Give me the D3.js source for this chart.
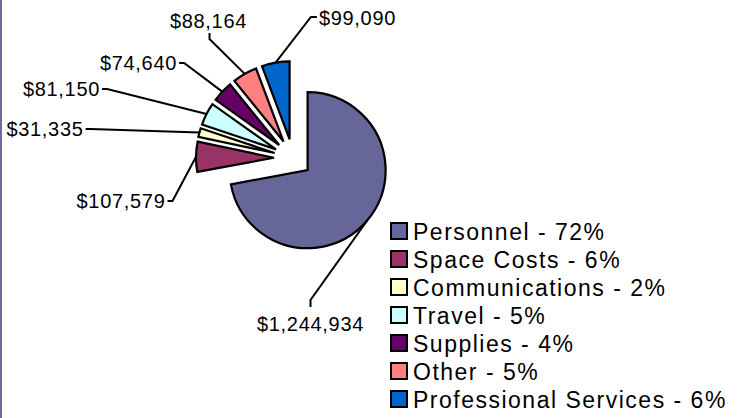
<!DOCTYPE html>
<html>
<head>
<meta charset="utf-8">
<script src="https://cdn.jsdelivr.net/npm/d3@7"></script>
<style>
  body { margin: 0; background: #fff; }
  svg { display: block; font-family: "Liberation Sans", Arial, sans-serif; }
</style>
</head>
<body>
<svg class="chart"></svg>
<script>
// chart values
var categories = ["Personnel", "Space Costs", "Communications", "Travel", "Supplies", "Other", "Professional Services"];
var amounts = [1244934, 107579, 31335, 81150, 74640, 88164, 99090];
var percents = [72, 6, 2, 5, 4, 5, 6];
var colors = ["#666699", "#993366", "#ffffcc", "#ccffff", "#660066", "#ff8080", "#0066cc"];

// where each value label sits (text centre) and which side its leader leaves from
var labelSpots = [
    {x: 310.5, y: 324, side: "top"},
    {x: 121, y: 201, side: "right"},
    {x: 45, y: 129, side: "right"},
    {x: 61.5, y: 89, side: "right"},
    {x: 138.5, y: 63, side: "right"},
    {x: 208.5, y: 21, side: "bottom"},
    {x: 357.5, y: 18, side: "left"}
];

function show() {
    'use strict';

    var width = 737, height = 418;
    var cx = 293, cy = 158, radius = 78, explode = 19;

    var svg = d3.select(".chart")
        .attr("width", width)
        .attr("height", height);

    svg.append("rect")
        .attr("width", width).attr("height", height)
        .attr("fill", "#fff");

    // thin frame edge on the left
    svg.append("rect")
        .attr("x", 0).attr("y", 0)
        .attr("width", 2).attr("height", height)
        .attr("fill", "#6b6ba3");

    var pie = d3.pie().sort(null).value(function(d) { return d; });
    var arcs = pie(amounts);
    var arc = d3.arc().innerRadius(0).outerRadius(radius);

    function mid(d) { return (d.startAngle + d.endAngle) / 2; }
    function polar(a, dist) { return [cx + dist * Math.sin(a), cy - dist * Math.cos(a)]; }

    var chart = svg.append("g");

    chart.selectAll("path.slice")
        .data(arcs)
        .enter().append("path")
        .attr("class", "slice")
        .attr("transform", function(d) {
            var p = polar(mid(d), explode);
            return "translate(" + p[0] + "," + p[1] + ")";
        })
        .attr("d", arc)
        .attr("fill", function(d, i) { return colors[i]; })
        .attr("stroke", "#000")
        .attr("stroke-width", 2.2)
        .attr("stroke-linejoin", "miter");

    // value labels
    var fmt = d3.format("$,");
    var labels = svg.append("g").selectAll("text")
        .data(arcs)
        .enter().append("text")
        .attr("x", function(d, i) { return labelSpots[i].x; })
        .attr("y", function(d, i) { return labelSpots[i].y; })
        .attr("dy", "0.35em")
        .attr("text-anchor", "middle")
        .attr("font-size", 20)
        .attr("letter-spacing", 0.7)
        .attr("fill", "#000")
        .text(function(d) { return fmt(d.value); });

    // leader lines from label to slice edge
    labels.each(function(d, i) {
        var b = this.getBBox(), s = labelSpots[i], start, elbow;
        if (s.side === "right") {
            start = [b.x + b.width + 2, s.y];
            elbow = [start[0] + 5, s.y];
        } else if (s.side === "left") {
            start = [b.x - 2, s.y - 1];
            elbow = [start[0] - 6, s.y - 1];
        } else if (s.side === "bottom") {
            start = [s.x + 1, b.y + b.height + 1];
            elbow = [start[0], start[1] + 6];
        } else {
            start = [s.x, b.y - 6];
            elbow = [s.x, start[1] - 7];
        }
        var end = polar(mid(d), explode + radius);
        svg.append("polyline")
            .attr("points", [start, elbow, end].map(function(p) { return p.join(","); }).join(" "))
            .attr("fill", "none")
            .attr("stroke", "#000")
            .attr("stroke-width", 2);
    });

    // legend
    var legend = svg.append("g").selectAll("g")
        .data(categories)
        .enter().append("g")
        .attr("transform", function(d, i) { return "translate(390," + (222 + i * 28) + ")"; });

    legend.append("rect")
        .attr("x", 1).attr("y", 1)
        .attr("width", 16).attr("height", 16)
        .attr("fill", function(d, i) { return colors[i]; })
        .attr("stroke", "#000")
        .attr("stroke-width", 2);

    legend.append("text")
        .attr("x", 23).attr("y", 18)
        .attr("font-size", 23)
        .attr("letter-spacing", 1.5)
        .attr("fill", "#000")
        .text(function(d, i) { return d + " - " + percents[i] + "%"; });
}

show();
</script>
</body>
</html>
